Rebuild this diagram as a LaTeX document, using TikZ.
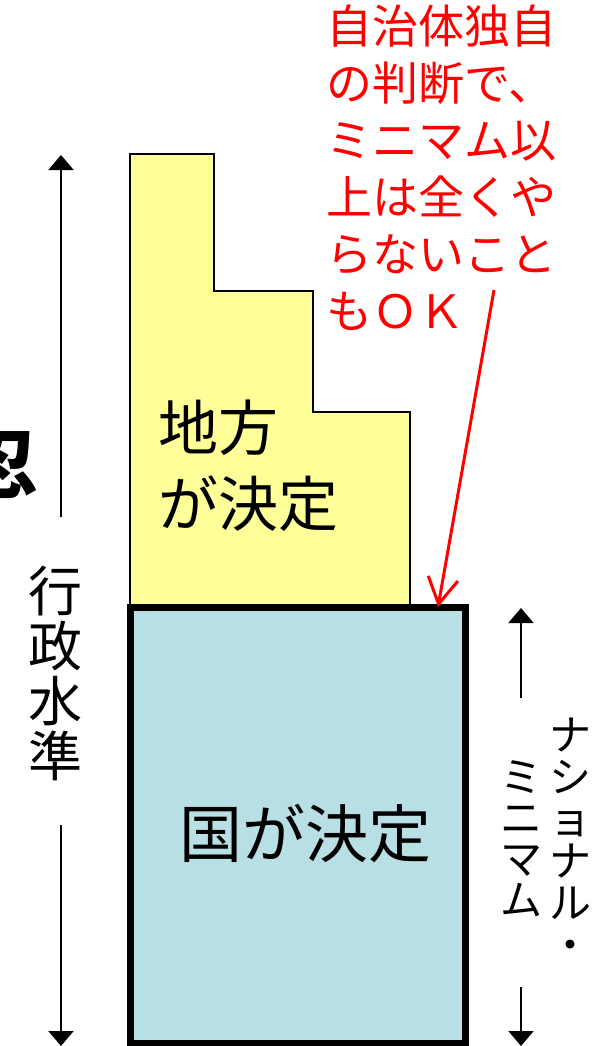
\documentclass[tikz,border=0pt]{standalone}
\usepackage{fontspec}
\usepackage{xcolor}
\usetikzlibrary{arrows.meta,positioning}
\newfontfamily\jp{Noto Sans CJK JP}
\definecolor{chiho}{HTML}{FFFF99}
\definecolor{kuni}{HTML}{B8DFE3}
\definecolor{note}{HTML}{FF0000}

\begin{document}
\begin{tikzpicture}[x=1pt, y=-1pt,
  lvl/.style={-{Triangle[length=15pt,width=25pt]}, line width=2pt},
  hint/.style={-{Straight Barb[length=26pt,width=30pt]}, line width=3pt, note},
  label/.style={inner sep=0pt, font=\jp},
  vlabel/.style={label, align=center},
]
  \useasboundingbox (0,0) rectangle (599,1046);

  % local part and national part
  \draw[fill=chiho, line width=1.5pt] (130,607) |- (214,154) |- (313,291) |- (410,412) -- (410,607) -- cycle;
  \node[draw, line width=7pt, fill=kuni, minimum width=335pt, minimum height=436pt, inner sep=0pt] (kuni) at (298,825.5) {};

  \node[label, anchor=north west, align=left, font=\jp\fontsize{60}{76}\selectfont] (chiho) at (158,400) {地方\\が決定};
  \node[label, font=\jp\fontsize{63}{63}\selectfont] (kunitxt) at (305,834) {国が決定};

  % left scale
  \node[label, font=\jp\bfseries\fontsize{75}{75}\selectfont] (nin) at (1,465) {忍};
  \node[vlabel, anchor=north, font=\jp\fontsize{54}{55}\selectfont] (gyosei) at (55,566) {行\\政\\水\\準};
  \coordinate (gTop) at (61,155);
  \coordinate (gUp) at (61,517);
  \coordinate (gDown) at (61,825);
  \coordinate (gBot) at (61,1046);
  \draw[lvl] (gUp) -- (gTop);
  \draw[lvl] (gDown) -- (gBot);

  % right scale
  \node[vlabel, anchor=north, font=\jp\fontsize{42}{42}\selectfont] (national) at (570,718) {ナ\\シ\\ョ\\ナ\\ル\\・};
  \node[vlabel, anchor=north, font=\jp\fontsize{42}{41}\selectfont] (minimum) at (521,760) {ミ\\ニ\\マ\\ム};
  \coordinate (mTop) at (521,608);
  \coordinate (mUp) at (521,698);
  \coordinate (mDown) at (521,987);
  \coordinate (mBot) at (521,1046);
  \draw[lvl] (mUp) -- (mTop);
  \draw[lvl] (mDown) -- (mBot);

  % note
  \node[label, anchor=north west, align=left, text=note, font=\jp\fontsize{46}{57}\selectfont] (memo) at (326,5) {自治体独自\\の判断で、\\ミニマム以\\上は全くや\\らないこと\\もＯＫ};
  \coordinate (memoFoot) at (494,290);
  \coordinate (gap) at (438,607);
  \draw[hint] (memoFoot) -- (gap);
\end{tikzpicture}
\end{document}
